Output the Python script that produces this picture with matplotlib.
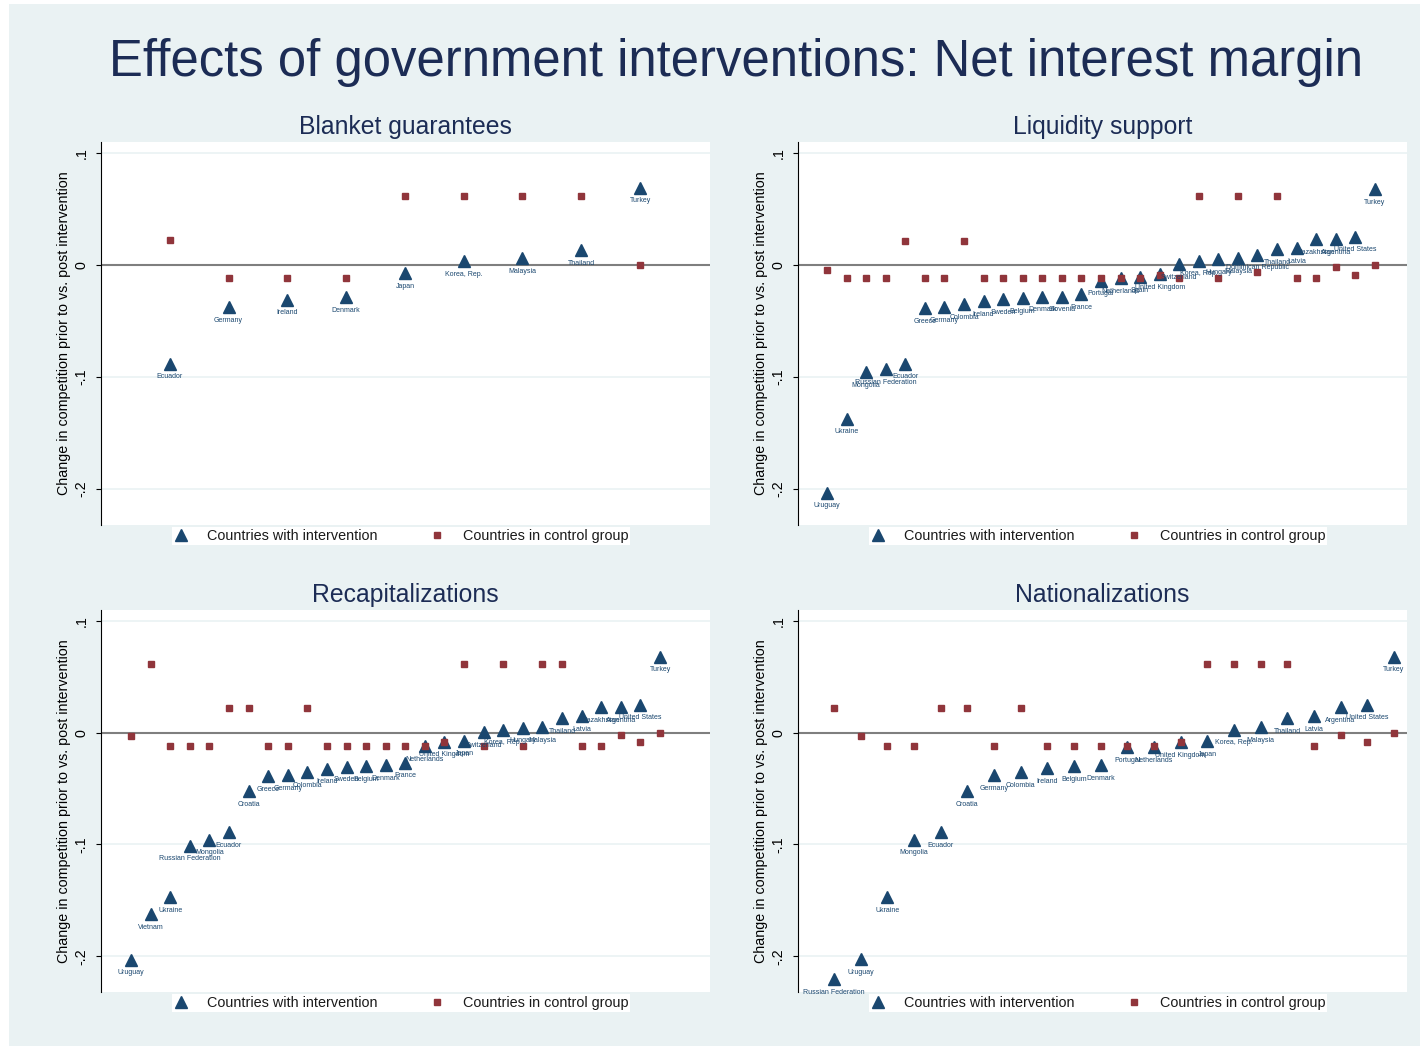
import numpy as np
import matplotlib
matplotlib.use("Agg")
import matplotlib.pyplot as plt
from matplotlib.patches import Rectangle

plt.rcParams['font.family'] = ['Liberation Sans', 'DejaVu Sans']

# ---- data ----
bg_countries = ["Ecuador", "Germany", "Ireland", "Denmark", "Japan",
                "Korea, Rep.", "Malaysia", "Thailand", "Turkey"]
bg_treat = [-0.088, -0.0375, -0.031, -0.0285, -0.007, 0.0035, 0.006, 0.0135, 0.069]
bg_ctrl = [0.022, -0.0115, -0.0115, -0.0115, 0.0615, 0.0615, 0.0615, 0.0615, 0.0]

ls_countries = ["Uruguay", "Ukraine", "Mongolia", "Russian Federation", "Ecuador",
                "Greece", "Germany", "Colombia", "Ireland", "Sweden", "Belgium",
                "Denmark", "Slovenia", "France", "Portugal", "Netherlands", "Spain",
                "United Kingdom", "Switzerland", "Korea, Rep.", "Hungary", "Malaysia",
                "Dominican Republic", "Thailand", "Latvia", "Kazakhstan", "Argentina",
                "United States", "Turkey"]
ls_treat = [-0.203, -0.137, -0.0955, -0.093, -0.088, -0.0385, -0.0375, -0.035,
            -0.032, -0.0305, -0.0295, -0.0283, -0.0283, -0.026, -0.014, -0.0117,
            -0.011, -0.008, 0.001, 0.004, 0.005, 0.0063, 0.0092, 0.014, 0.015,
            0.023, 0.023, 0.0253, 0.068]
ls_ctrl = [-0.004, -0.0116, -0.0116, -0.0116, 0.0217, -0.0116, -0.0116, 0.0217,
           -0.0116, -0.0116, -0.0116, -0.0116, -0.0116, -0.0116, -0.0116, -0.0116,
           -0.0116, -0.0085, -0.0119, 0.0616, -0.0119, 0.0616, -0.006, 0.0616,
           -0.0119, -0.0119, -0.002, -0.0087, 0.0]

rc_countries = ["Uruguay", "Vietnam", "Ukraine", "Russian Federation", "Mongolia",
                "Ecuador", "Croatia", "Greece", "Germany", "Colombia", "Ireland",
                "Sweden", "Belgium", "Denmark", "France", "Netherlands",
                "United Kingdom", "Japan", "Switzerland", "Korea, Rep.", "Hungary",
                "Malaysia", "Thailand", "Latvia", "Kazakhstan", "Argentina",
                "United States", "Turkey"]
rc_treat = [-0.203, -0.1625, -0.147, -0.101, -0.0958, -0.0887, -0.0524, -0.0387,
            -0.0378, -0.0354, -0.0321, -0.0304, -0.0298, -0.0289, -0.0268, -0.0122,
            -0.008, -0.0071, 0.0003, 0.0027, 0.0045, 0.005, 0.0128, 0.0146, 0.0226,
            0.0226, 0.025, 0.068]
rc_ctrl = [-0.0033, 0.0613, -0.0119, -0.0119, -0.0119, 0.0217, 0.0217, -0.0119,
           -0.0119, 0.0217, -0.0119, -0.0119, -0.0119, -0.0119, -0.0119, -0.0122,
           -0.0087, 0.0613, -0.0122, 0.0613, -0.0122, 0.0613, 0.0613, -0.0122,
           -0.0122, -0.0018, -0.0087, 0.0]

na_countries = ["Russian Federation", "Uruguay", "Ukraine", "Mongolia", "Ecuador",
                "Croatia", "Germany", "Colombia", "Ireland", "Belgium", "Denmark",
                "Portugal", "Netherlands", "United Kingdom", "Japan", "Korea, Rep.",
                "Malaysia", "Thailand", "Latvia", "Argentina", "United States", "Turkey"]
na_treat = [-0.2205, -0.2027, -0.147, -0.0958, -0.0887, -0.0524, -0.0378, -0.0354,
            -0.032, -0.0298, -0.0289, -0.0128, -0.0128, -0.0083, -0.0074, 0.0027,
            0.005, 0.0128, 0.0146, 0.0226, 0.025, 0.068]
na_ctrl = [0.0217, -0.0033, -0.0119, -0.0119, 0.0217, 0.0217, -0.0119, 0.0217,
           -0.0119, -0.0119, -0.0119, -0.0122, -0.0122, -0.0087, 0.0613, 0.0613,
           0.0613, 0.0613, -0.0122, -0.0018, -0.0087, 0.0]

yticks = [0.1, 0.0, -0.1, -0.2]
ytick_labels = [".1", "0", "-.1", "-.2"]

title = "Effects of government interventions: Net interest margin"
ylabel = "Change in competition prior to vs. post intervention"
legend_labels = ["Countries with intervention", "Countries in control group"]

NAVY = '#1a476f'
MAROON = '#90353b'
TITLE_C = '#1c2c55'
BG = '#eaf2f3'

W, H = 1428, 1046
fig = plt.figure(figsize=(W / 100, H / 100), dpi=100)
fig.patch.set_facecolor('white')
fig.add_artist(Rectangle((9 / W, 0), (1420 - 9) / W, (H - 4) / H,
                         transform=fig.transFigure, facecolor=BG,
                         edgecolor='none', zorder=-10))


def box(x0, x1, y0, y1):
    return [x0 / W, 1 - y1 / H, (x1 - x0) / W, (y1 - y0) / H]


panels = [
    ("Blanket guarantees", bg_countries, bg_treat, bg_ctrl, box(101, 710, 142, 525), (-0.17, 10.19)),
    ("Liquidity support", ls_countries, ls_treat, ls_ctrl, box(798, 1407, 142, 525), (-0.48, 30.64)),
    ("Recapitalizations", rc_countries, rc_treat, rc_ctrl, box(101, 710, 610, 992), (-0.53, 30.55)),
    ("Nationalizations", na_countries, na_treat, na_ctrl, box(798, 1407, 610, 992), (-0.35, 22.49)),
]

for name, countries, treat, ctrl, rect, xlim in panels:
    ax = fig.add_axes(rect)
    ax.set_facecolor('white')
    x = np.arange(1, len(countries) + 1)

    for yv in [0.1, -0.1, -0.2]:
        ax.axhline(yv, color=BG, lw=1.2, zorder=0)
    ax.axhline(0, color='#7f7f7f', lw=1.5, zorder=1)

    ax.plot(x, treat, ls='none', marker='^', ms=8.3, color=NAVY,
            label=legend_labels[0], zorder=3)
    ax.plot(x, ctrl, ls='none', marker='s', ms=5, color=MAROON,
            label=legend_labels[1], zorder=3)
    for xi, yi, c in zip(x, treat, countries):
        ax.annotate(c, (xi, yi), xytext=(0, -9.5), textcoords='offset points',
                    ha='center', va='center', fontsize=5, color=NAVY, zorder=4)

    ax.set_xlim(*xlim)
    ax.set_ylim(-0.232, 0.1098)
    ax.set_xticks([])
    for s in ['top', 'right', 'bottom']:
        ax.spines[s].set_visible(False)
    ax.spines['left'].set_linewidth(0.8)

    ax.set_yticks(yticks)
    ax.set_yticklabels(ytick_labels, rotation=90, va='center', fontsize=10.3)
    ax.tick_params(axis='y', length=3.6, width=0.8, pad=5.3)
    ax.set_ylabel(ylabel, fontsize=10.3, va='center')
    ax.yaxis.set_label_coords(-37 / 609, 0.5)

    ax.text(0.5, 1 + 8 / 383, name, transform=ax.transAxes, ha='center',
            va='baseline', fontsize=17.8, color=TITLE_C)

    leg = ax.legend(loc='upper center', bbox_to_anchor=(0.4926, -2 / 383), ncol=2,
                    frameon=True, fancybox=False, facecolor='white',
                    edgecolor='none', framealpha=1, fontsize=10.4,
                    handlelength=1.0, handletextpad=1.3, columnspacing=3.6,
                    borderpad=0.15, borderaxespad=0)
    for t in leg.get_texts():
        t.set_color('#1a1a1a')

fig.text(736 / W, 1 - 76 / H, title, ha='center', va='baseline',
         fontsize=36.6, color=TITLE_C)

fig.savefig('out.png', dpi=100, facecolor=fig.get_facecolor())
